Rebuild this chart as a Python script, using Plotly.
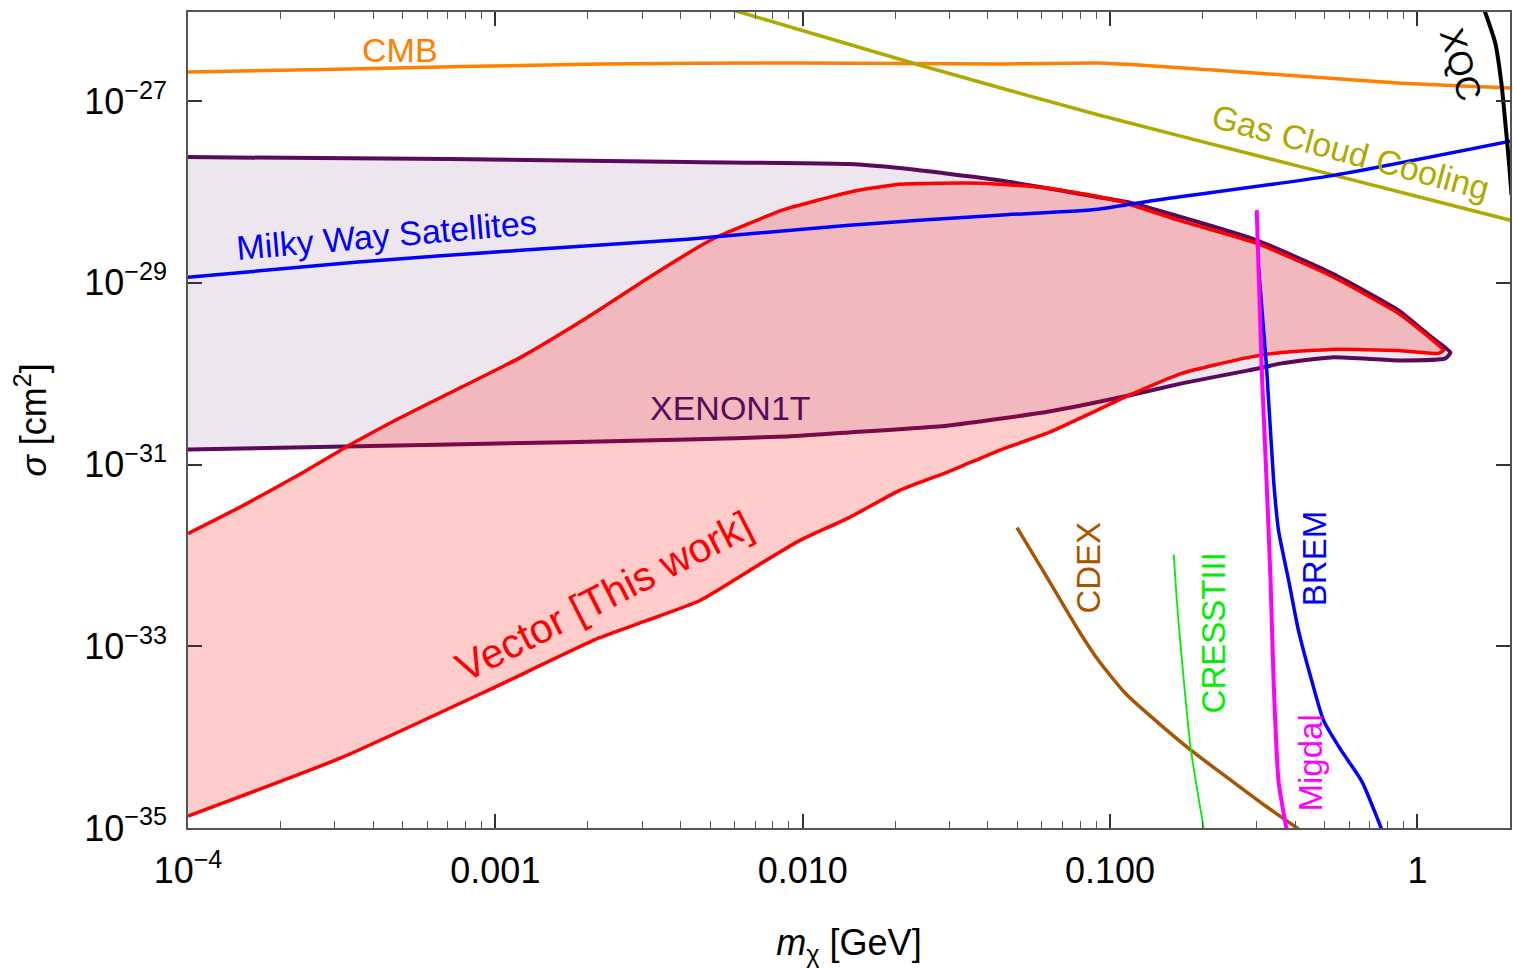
import plotly.graph_objects as go

# ---------------- data (log10 of m [GeV], log10 of sigma [cm^2]) ----------------
cmb_lm = [-4.000, -3.474, -2.661, -2.011, -1.362, -1.037, -0.907, -0.387, -0.062, 0.302]
cmb_ls = [-26.680, -26.647, -26.592, -26.581, -26.592, -26.581, -26.603, -26.725, -26.802, -26.857]

gas_lm = [-2.262, -1.621, -1.037, -0.387, 0.302]
gas_ls = [-25.964, -26.603, -27.154, -27.716, -28.311]

mw_lm = [-4.000, -3.457, -2.918, -2.375, -1.849, -1.362, -1.037, -0.874, -0.289, 0.302]
mw_ls = [-28.939, -28.774, -28.642, -28.521, -28.366, -28.256, -28.190, -28.102, -27.826, -27.441]

xenon_up_lm = [-4.000, -3.149, -2.375, -1.849, -1.686, -1.362, -1.037, -0.929, -0.523, -0.279, -0.062, 0.046, 0.107]
xenon_up_ls = [-27.617, -27.639, -27.672, -27.694, -27.738, -27.871, -28.058, -28.124, -28.532, -28.895, -29.303, -29.601, -29.766]
xenon_lo_lm = [0.091, -0.062, -0.279, -0.442, -0.549, -0.767, -0.939, -1.199, -1.524, -1.849, -2.050, -2.375, -3.149, -4.000]
xenon_lo_ls = [-29.832, -29.854, -29.821, -29.887, -29.964, -30.107, -30.240, -30.416, -30.570, -30.647, -30.691, -30.725, -30.780, -30.835]

vec_up_lm = [-4.000, -3.815, -3.626, -3.477, -3.327, -3.132, -2.918, -2.700, -2.499, -2.346, -2.281, -2.067,
             -2.011, -1.849, -1.686, -1.417, -1.199, -0.981, -0.767, -0.523, -0.279, -0.062, 0.046, 0.085]
vec_up_ls = [-31.760, -31.441, -31.088, -30.791, -30.515, -30.185, -29.821, -29.380, -28.939, -28.620, -28.499, -28.201,
             -28.146, -28.003, -27.915, -27.904, -27.959, -28.091, -28.322, -28.565, -28.928, -29.336, -29.623, -29.744]
vec_lo_lm = [0.068, -0.062, -0.279, -0.442, -0.549, -0.767, -0.939, -1.199, -1.362, -1.524, -1.686, -1.849,
             -2.011, -2.174, -2.336, -2.509, -2.661, -3.006, -3.503, -4.000]
vec_lo_ls = [-29.777, -29.744, -29.733, -29.766, -29.821, -29.997, -30.240, -30.647, -30.846, -31.077, -31.287, -31.584,
             -31.837, -32.168, -32.499, -32.719, -32.906, -33.457, -34.229, -34.868]

cdex_lm = [-1.303, -1.199, -1.102, -1.037, -0.949, -0.851, -0.734, -0.604, -0.494, -0.387]
cdex_ls = [-31.694, -32.278, -32.829, -33.160, -33.523, -33.821, -34.152, -34.482, -34.758, -35.011]

cresst_lm = [-0.793, -0.783, -0.770, -0.738, -0.695]
cresst_ls = [-31.992, -32.499, -33.017, -34.119, -35.011]

migdal_lm = [-0.523, -0.507, -0.491, -0.478, -0.468, -0.452, -0.426]
migdal_ls = [-28.201, -29.931, -31.176, -32.278, -33.380, -34.482, -35.011]

brem_lm = [-0.517, -0.491, -0.468, -0.452, -0.419, -0.387, -0.344, -0.305, -0.247, -0.182, -0.117]
brem_ls = [-28.829, -29.931, -31.176, -31.727, -32.278, -32.829, -33.380, -33.821, -34.152, -34.482, -35.011]

xqc_lm = [0.214, 0.253, 0.273, 0.289, 0.299, 0.306]
xqc_ls = [-25.964, -26.361, -26.802, -27.353, -27.727, -28.036]

# label texts and their (log10 m, log10 sigma) anchor, rotation
labels = ["CMB", "Milky Way Satellites", "XENON1T", "Vector [This work]", "Gas Cloud Cooling",
          "XQC", "CDEX", "CRESSTIII", "BREM", "Migdal"]
label_lm = [-3.311, -3.353, -2.236, -2.645, -0.218, 0.143, -1.069, -0.663, -0.335, -0.348]
label_ls = [-26.438, -28.477, -30.383, -32.444, -27.562, -26.603, -32.135, -32.851, -32.036, -34.284]
label_angle = [0, -5, 0, -27, 15, 74, -90, -90, -90, -90]
label_size = [34, 34, 34, 41, 34, 34, 33, 33, 33, 33]
label_color = ["#FF8000", "#0000FF", "#5A0A5A", "#FF0000", "#AFAA00",
               "#000000", "#A85400", "#00EE00", "#0000FF", "#FF00FF"]

xtick_vals = [1e-4, 1e-3, 1e-2, 1e-1, 1]
xtick_text = ["10<sup>\u22124</sup>", "0.001", "0.010", "0.100", "1"]
ytick_exp = [-35, -33, -31, -29, -27]

# ---------------- figure ----------------
def p10(a):
    return [10 ** v for v in a]

fig = go.Figure()

# XENON1T region
fig.add_trace(go.Scatter(x=p10(xenon_up_lm + xenon_lo_lm), y=p10(xenon_up_ls + xenon_lo_ls),
                         mode="lines", fill="toself", fillcolor="rgba(90,10,90,0.10)",
                         line=dict(color="#5A0A5A", width=4, shape="spline", smoothing=0.5),
                         hoverinfo="skip"))
# Vector region (this work)
fig.add_trace(go.Scatter(x=p10(vec_up_lm + vec_lo_lm), y=p10(vec_up_ls + vec_lo_ls),
                         mode="lines", fill="toself", fillcolor="rgba(255,0,0,0.20)",
                         line=dict(color="#FF0000", width=3.5, shape="spline", smoothing=0.5),
                         hoverinfo="skip"))

curves = [
    (cmb_lm, cmb_ls, "#FF8000", 3.5),
    (gas_lm, gas_ls, "#AFAA00", 3.5),
    (mw_lm, mw_ls, "#0000FF", 3.5),
    (cdex_lm, cdex_ls, "#A85400", 3.5),
    (cresst_lm, cresst_ls, "#00EE00", 1.8),
    (brem_lm, brem_ls, "#0000FF", 3.5),
    (migdal_lm, migdal_ls, "#FF00FF", 4),
    (xqc_lm, xqc_ls, "#000000", 4),
]
for lm, ls, col, w in curves:
    fig.add_trace(go.Scatter(x=p10(lm), y=p10(ls), mode="lines",
                             line=dict(color=col, width=w, shape="spline", smoothing=0.6),
                             hoverinfo="skip"))

for t, lm, ls, ang, sz, col in zip(labels, label_lm, label_ls, label_angle, label_size, label_color):
    fig.add_annotation(x=lm, y=ls, xref="x", yref="y", text=t, showarrow=False,
                       textangle=ang, font=dict(family="Liberation Sans, Arial", size=sz, color=col))

minor_vals = [k * 10 ** e for e in range(-4, 1) for k in range(2, 10) if k * 10 ** e <= 2]

axis_font = dict(family="Liberation Sans, Arial", size=36, color="black")
fig.update_xaxes(type="log", range=[-4, 0.30103], tickmode="array", tickvals=xtick_vals, ticktext=xtick_text,
                 ticks="inside", ticklen=14, tickwidth=1.5, tickcolor="#333",
                 minor=dict(tickmode="array", tickvals=minor_vals, ticks="inside", ticklen=7,
                            tickwidth=1, tickcolor="#555", showgrid=False),
                 showline=True, linecolor="#555", linewidth=1.5, mirror="allticks",
                 showgrid=False, zeroline=False, tickfont=axis_font, ticklabelstandoff=10,
                 title=dict(text="<i>m</i><sub>\u03c7</sub> [GeV]", font=axis_font, standoff=40))
fig.update_yaxes(type="log", range=[-35, -26.02], tickmode="array",
                 tickvals=[10.0 ** e for e in ytick_exp],
                 ticktext=["10<sup>\u2212%d</sup>" % (-e) for e in ytick_exp],
                 ticks="inside", ticklen=14, tickwidth=1.5, tickcolor="#333",
                 showline=True, linecolor="#555", linewidth=1.5, mirror="allticks",
                 showgrid=False, zeroline=False, tickfont=axis_font, ticklabelstandoff=12,
                 title=dict(text="<i>\u03c3</i> [cm<sup>2</sup>]", font=axis_font, standoff=27))

fig.update_layout(width=1513, height=968, showlegend=False,
                  margin=dict(l=188, r=1, t=12, b=140),
                  plot_bgcolor="white", paper_bgcolor="white")

fig.write_html("out.html", config={"displayModeBar": False},
               post_script="document.body.style.margin='0';document.body.style.overflow='hidden';")
